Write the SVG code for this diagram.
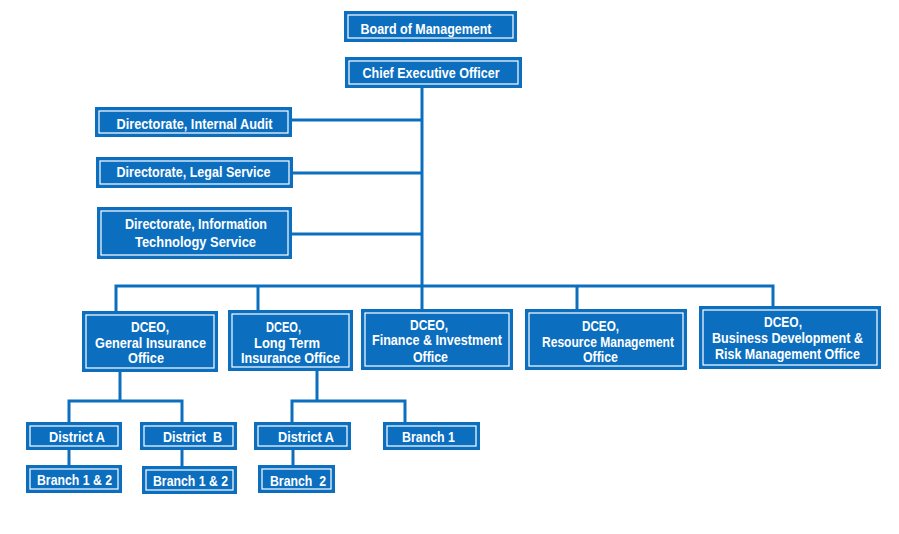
<svg xmlns="http://www.w3.org/2000/svg" width="899" height="534" viewBox="0 0 899 534">
<style>
.box{fill:#0b6ebf;}
.inner{fill:none;stroke:#ffffff;stroke-width:1.2;}
.t{font-family:"Liberation Sans",Arial,sans-serif;font-weight:bold;font-size:15.5px;fill:#ffffff;}
.c{fill:none;stroke:#0b6ebf;stroke-width:3;stroke-linejoin:miter;}
</style>
<rect width="899" height="534" fill="#ffffff"/>
<g id="connectors">
<path class="c" d="M422 88 V309"/>
<path class="c" d="M292 120 H422"/>
<path class="c" d="M293 173 H422"/>
<path class="c" d="M292 234 H422"/>
<path class="c" d="M116 311 V286 H773 V306"/>
<path class="c" d="M258 286 V310"/>
<path class="c" d="M577 286 V309"/>
<path class="c" d="M120 372 V401"/>
<path class="c" d="M69 422 V401 H182 V422"/>
<path class="c" d="M69 450 V465"/>
<path class="c" d="M182 450 V466"/>
<path class="c" d="M317 371 V401"/>
<path class="c" d="M292 422 V401 H405 V422"/>
<path class="c" d="M293 450 V465"/>
</g>
<g id="board"><rect class="box" x="344" y="11" width="173" height="31"/><rect class="inner" x="348" y="15" width="165" height="23"/><text class="t" x="360.5" y="34" textLength="131" lengthAdjust="spacingAndGlyphs">Board of Management</text></g>
<g id="ceo"><rect class="box" x="345" y="57" width="177" height="31"/><rect class="inner" x="349" y="61" width="169" height="23"/><text class="t" x="362.5" y="77.5" textLength="137" lengthAdjust="spacingAndGlyphs">Chief Executive Officer</text></g>
<g id="audit"><rect class="box" x="95" y="107" width="197" height="30"/><rect class="inner" x="99" y="111" width="189" height="22"/><text class="t" x="116.5" y="128.5" textLength="156" lengthAdjust="spacingAndGlyphs">Directorate, Internal Audit</text></g>
<g id="legal"><rect class="box" x="96" y="157" width="197" height="31"/><rect class="inner" x="100" y="161" width="189" height="23"/><text class="t" x="116.5" y="176.5" textLength="154" lengthAdjust="spacingAndGlyphs">Directorate, Legal Service</text></g>
<g id="it"><rect class="box" x="97" y="207" width="195" height="52"/><rect class="inner" x="101" y="211" width="187" height="44"/><text class="t" x="125" y="229" textLength="142" lengthAdjust="spacingAndGlyphs">Directorate, Information</text><text class="t" x="135" y="247" textLength="121" lengthAdjust="spacingAndGlyphs">Technology Service</text></g>
<g id="dceo-gi"><rect class="box" x="82" y="311" width="136" height="61"/><rect class="inner" x="86" y="315" width="128" height="53"/><text class="t" x="131" y="332" textLength="38" lengthAdjust="spacingAndGlyphs">DCEO,</text><text class="t" x="95" y="347.5" textLength="111" lengthAdjust="spacingAndGlyphs">General Insurance</text><text class="t" x="128" y="363" textLength="36" lengthAdjust="spacingAndGlyphs">Office</text></g>
<g id="dceo-lt"><rect class="box" x="228" y="310" width="125" height="61"/><rect class="inner" x="232" y="314" width="117" height="53"/><text class="t" x="266" y="332" textLength="35" lengthAdjust="spacingAndGlyphs">DCEO,</text><text class="t" x="254" y="347.5" textLength="66" lengthAdjust="spacingAndGlyphs">Long Term</text><text class="t" x="241" y="363" textLength="99" lengthAdjust="spacingAndGlyphs">Insurance Office</text></g>
<g id="dceo-fin"><rect class="box" x="361" y="309" width="152" height="61"/><rect class="inner" x="365" y="313" width="144" height="53"/><text class="t" x="410" y="329.5" textLength="38" lengthAdjust="spacingAndGlyphs">DCEO,</text><text class="t" x="372" y="345.2" textLength="130" lengthAdjust="spacingAndGlyphs">Finance &amp; Investment</text><text class="t" x="413" y="361.5" textLength="35" lengthAdjust="spacingAndGlyphs">Office</text></g>
<g id="dceo-res"><rect class="box" x="525" y="309" width="162" height="61"/><rect class="inner" x="529" y="313" width="154" height="53"/><text class="t" x="582" y="331" textLength="37" lengthAdjust="spacingAndGlyphs">DCEO,</text><text class="t" x="542" y="346.5" textLength="132" lengthAdjust="spacingAndGlyphs">Resource Management</text><text class="t" x="583" y="362" textLength="35" lengthAdjust="spacingAndGlyphs">Office</text></g>
<g id="dceo-bus"><rect class="box" x="699" y="306" width="182" height="63"/><rect class="inner" x="703" y="310" width="174" height="55"/><text class="t" x="764" y="327" textLength="38" lengthAdjust="spacingAndGlyphs">DCEO,</text><text class="t" x="712" y="342.5" textLength="151" lengthAdjust="spacingAndGlyphs">Business Development &amp;</text><text class="t" x="715" y="358.5" textLength="145" lengthAdjust="spacingAndGlyphs">Risk Management Office</text></g>
<g id="gi-district-a"><rect class="box" x="26" y="422" width="96" height="28"/><rect class="inner" x="30" y="426" width="88" height="20"/><text class="t" x="49" y="441.5" textLength="56" lengthAdjust="spacingAndGlyphs">District A</text></g>
<g id="gi-district-b"><rect class="box" x="140" y="422" width="97" height="28"/><rect class="inner" x="144" y="426" width="89" height="20"/><text class="t" x="163" y="441.5" textLength="59" lengthAdjust="spacingAndGlyphs" xml:space="preserve">District  B</text></g>
<g id="lt-district-a"><rect class="box" x="254" y="422" width="97" height="28"/><rect class="inner" x="258" y="426" width="89" height="20"/><text class="t" x="278" y="441.5" textLength="56" lengthAdjust="spacingAndGlyphs">District A</text></g>
<g id="lt-branch-1"><rect class="box" x="383" y="422" width="97" height="28"/><rect class="inner" x="387" y="426" width="89" height="20"/><text class="t" x="402" y="441.5" textLength="53" lengthAdjust="spacingAndGlyphs">Branch 1</text></g>
<g id="gi-a-branch"><rect class="box" x="26" y="465" width="96" height="28"/><rect class="inner" x="30" y="469" width="88" height="20"/><text class="t" x="37" y="484.5" textLength="75" lengthAdjust="spacingAndGlyphs">Branch 1 &amp; 2</text></g>
<g id="gi-b-branch"><rect class="box" x="142" y="466" width="95" height="28"/><rect class="inner" x="146" y="470" width="87" height="20"/><text class="t" x="153" y="485.5" textLength="75" lengthAdjust="spacingAndGlyphs">Branch 1 &amp; 2</text></g>
<g id="lt-a-branch"><rect class="box" x="258" y="465" width="77" height="28"/><rect class="inner" x="262" y="469" width="69" height="20"/><text class="t" x="270" y="485.5" textLength="56" lengthAdjust="spacingAndGlyphs" xml:space="preserve">Branch  2</text></g>
</svg>
